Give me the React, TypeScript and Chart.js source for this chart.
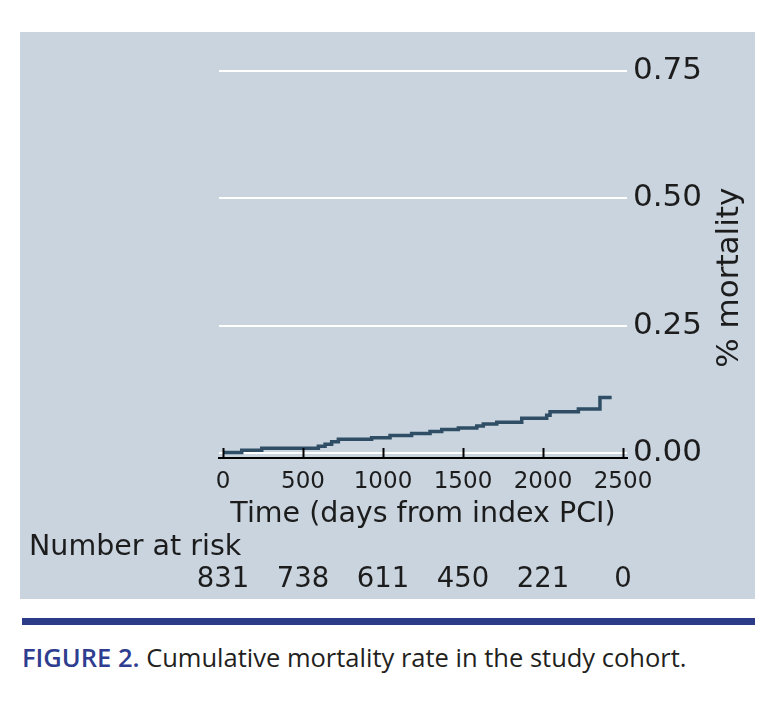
import { useEffect, useRef } from 'react';
import { Chart, registerables } from 'chart.js';

Chart.register(...registerables);

// Kaplan-Meier style cumulative mortality (value holds from each day on)
const stepDays = [0, 117, 242, 596, 638, 679, 721, 929, 1044, 1179, 1294, 1367, 1471, 1586, 1627, 1711, 1867, 2023, 2044, 2221, 2356, 2429];
const cumMortality = [0.001, 0.005, 0.009, 0.013, 0.017, 0.022, 0.027, 0.030, 0.034, 0.038, 0.042, 0.046, 0.049, 0.053, 0.057, 0.060, 0.068, 0.074, 0.081, 0.086, 0.109, 0.109];

const xTicks = [0, 500, 1000, 1500, 2000, 2500];
const yTicks = [0, 0.25, 0.5, 0.75];

const riskDays = [0, 500, 1000, 1500, 2000, 2500];
const riskCounts = [831, 738, 611, 450, 221, 0];

const FONT = '"DejaVu Sans", sans-serif';
const INK = '#1c1c1c';

const extrasPlugin = {
  id: 'kmExtras',
  afterDraw(chart: Chart) {
    const { ctx, chartArea } = chart;
    const xs = chart.scales.x;
    ctx.save();

    // inward tick marks on the time axis
    ctx.strokeStyle = '#000';
    ctx.lineWidth = 2;
    xTicks.forEach((t) => {
      const px = Math.round(xs.getPixelForValue(t)) + 0.5;
      ctx.beginPath();
      ctx.moveTo(px, chartArea.bottom - 10);
      ctx.lineTo(px, chartArea.bottom);
      ctx.stroke();
    });

    ctx.fillStyle = INK;

    // y-axis title, reads bottom to top
    ctx.save();
    ctx.translate(710, (chartArea.top + chartArea.bottom) / 2 + 26);
    ctx.rotate(-Math.PI / 2);
    ctx.font = `31px ${FONT}`;
    ctx.textAlign = 'center';
    ctx.textBaseline = 'middle';
    ctx.fillText('% mortality', 0, 0);
    ctx.restore();

    // number at risk table
    ctx.font = `28.5px ${FONT}`;
    ctx.textBaseline = 'alphabetic';
    ctx.textAlign = 'left';
    ctx.fillText('Number at risk', 9, 523);
    ctx.font = `27.5px ${FONT}`;
    ctx.textAlign = 'center';
    riskDays.forEach((d, i) => {
      ctx.fillText(String(riskCounts[i]), xs.getPixelForValue(d), 555);
    });
    ctx.restore();
  },
};

function MortalityChart() {
  const canvasRef = useRef<HTMLCanvasElement>(null);
  const chartRef = useRef<Chart | null>(null);

  useEffect(() => {
    if (!canvasRef.current) return;
    if (chartRef.current) chartRef.current.destroy();

    chartRef.current = new Chart(canvasRef.current, {
      type: 'line',
      data: {
        datasets: [
          {
            data: stepDays.map((d, i) => ({ x: d, y: cumMortality[i] })),
            stepped: 'before',
            borderColor: '#2f4d64',
            borderWidth: 3.5,
            pointRadius: 0,
            fill: false,
          },
        ],
      },
      options: {
        animation: false,
        responsive: true,
        maintainAspectRatio: false,
        layout: { padding: { left: 199, top: 13.5, right: 0, bottom: 67.5 } },
        plugins: { legend: { display: false }, tooltip: { enabled: false } },
        scales: {
          x: {
            type: 'linear',
            position: 'bottom',
            min: -25,
            max: 2525,
            afterBuildTicks: (s: any) => { s.ticks = xTicks.map((v) => ({ value: v })); },
            afterFit: (s: any) => { s.height = 73.5; s.paddingLeft = 0; s.paddingRight = 0; },
            grid: { drawOnChartArea: false, drawTicks: false },
            border: { display: true, color: '#000', width: 2 },
            ticks: {
              color: INK,
              font: { family: FONT, size: 23 },
              padding: 10,
              maxRotation: 0,
              callback: (v: any) => String(v),
            },
            title: { display: true, text: 'Time (days from index PCI)', color: INK, font: { family: FONT, size: 28.5 }, padding: 0 },
          },
          y: {
            type: 'linear',
            position: 'right',
            min: -0.01,
            max: 0.8,
            afterBuildTicks: (s: any) => { s.ticks = yTicks.map((v) => ({ value: v })); },
            afterFit: (s: any) => { s.width = 128; s.paddingTop = 0; s.paddingBottom = 0; },
            grid: { color: '#ffffff', lineWidth: 2, drawTicks: false },
            border: { display: false },
            ticks: {
              color: INK,
              font: { family: FONT, size: 31 },
              padding: 6,
              callback: (v: any) => Number(v).toFixed(2),
            },
          },
        },
      },
      plugins: [extrasPlugin],
    });

    return () => { if (chartRef.current) chartRef.current.destroy(); };
  }, []);

  return (
    <div style={{ position: 'absolute', left: 20, top: 32, width: 735, height: 567, background: '#c9d4df' }}>
      <canvas ref={canvasRef} />
    </div>
  );
}

export default function App() {
  return (
    <div style={{ position: 'absolute', left: 0, top: 0, width: 768, height: 702, background: '#fff', overflow: 'hidden' }}>
      <MortalityChart />
      <div style={{ position: 'absolute', left: 22, top: 618, width: 733, height: 7, background: '#2b3b88' }} />
      <div
        style={{
          position: 'absolute',
          left: 22,
          top: 645,
          fontFamily: '"Open Sans", sans-serif',
          fontSize: 25.5,
          lineHeight: '25.5px',
          color: '#231f20',
          whiteSpace: 'nowrap',
        }}
      >
        <span style={{ color: '#2e3d8f', fontWeight: 600 }}>FIGURE 2.</span> Cumulative mortality rate in the study cohort.
      </div>
    </div>
  );
}
